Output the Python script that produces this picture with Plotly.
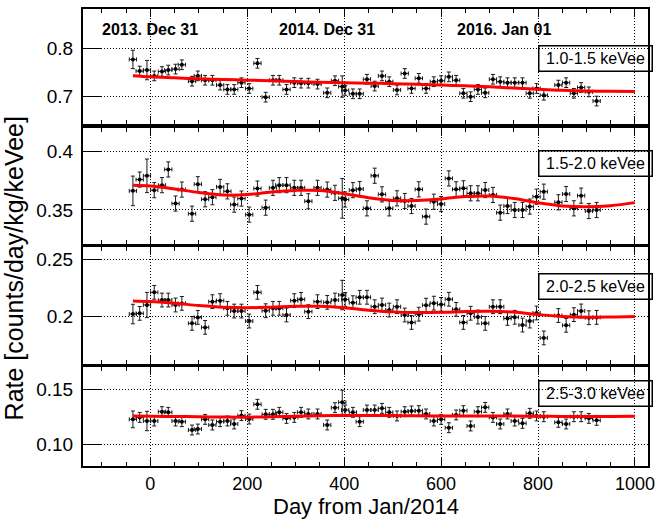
import plotly.graph_objects as go

# Day offsets (from Jan 2014) of each measurement bin
days = [-36, -22, -7, 8, 24, 37, 52, 65, 86, 98, 113, 128, 144, 159, 173, 188,
        204, 221, 238, 253, 266, 281, 297, 311, 326, 345, 365, 381, 396, 402,
        418, 432, 447, 463, 478, 493, 509, 525, 539, 554, 569, 585, 600, 616,
        631, 646, 661, 676, 691, 707, 722, 737, 752, 768, 783, 797, 812, 842,
        858, 874, 889, 905, 921]
day_halfwidth = 7.5

# Event rates per energy window [counts/day/kg/keVee]
rate_1p0 = [0.777, 0.753, 0.755, 0.743, 0.752, 0.755, 0.757, 0.766, 0.732, 0.743,
            0.734, 0.734, 0.724, 0.715, 0.715, 0.729, 0.717, 0.769, 0.699, 0.734,
            0.734, 0.715, 0.729, 0.728, 0.728, 0.726, 0.708, 0.733, 0.721, 0.713,
            0.706, 0.706, 0.736, 0.722, 0.743, 0.731, 0.714, 0.748, 0.717, 0.738,
            0.717, 0.731, 0.733, 0.741, 0.734, 0.707, 0.700, 0.715, 0.708, 0.736,
            0.731, 0.729, 0.729, 0.729, 0.707, 0.717, 0.703, 0.724, 0.729, 0.707,
            0.719, 0.710, 0.691]
rate_1p5 = [0.3664, 0.3761, 0.3793, 0.3670, 0.3713, 0.3848, 0.3555, 0.3675, 0.3468, 0.3721,
            0.3592, 0.3610, 0.3698, 0.3660, 0.3546, 0.3598, 0.3460, 0.3684, 0.3520, 0.3690,
            0.3713, 0.3713, 0.3690, 0.3690, 0.3575, 0.3690, 0.3675, 0.3647, 0.3600, 0.3590,
            0.3670, 0.3680, 0.3514, 0.3794, 0.3634, 0.3514, 0.3600, 0.3577, 0.3534, 0.3677,
            0.3443, 0.3571, 0.3551, 0.3771, 0.3677, 0.3686, 0.3643, 0.3643, 0.3671, 0.3629,
            0.3477, 0.3534, 0.3500, 0.3500, 0.3529, 0.3614, 0.3657, 0.3566, 0.3637, 0.3514,
            0.3623, 0.3491, 0.3500]
rate_2p0 = [0.2023, 0.2029, 0.2102, 0.2212, 0.2145, 0.2145, 0.2102, 0.2116, 0.1942, 0.1994,
            0.1907, 0.2131, 0.2140, 0.2073, 0.2049, 0.2049, 0.1962, 0.2212, 0.2052, 0.2073,
            0.2073, 0.2015, 0.2140, 0.2151, 0.2044, 0.2131, 0.2125, 0.2145, 0.2189, 0.2150,
            0.2122, 0.2169, 0.2169, 0.2087, 0.2102, 0.2058, 0.2087, 0.2015, 0.1950, 0.2022,
            0.2100, 0.2118, 0.2107, 0.2152, 0.2064, 0.1950, 0.2030, 0.1997, 0.1942, 0.2087,
            0.2087, 0.1985, 0.1995, 0.1927, 0.1962, 0.2032, 0.1815, 0.2010, 0.1925, 0.2018,
            0.2050, 0.1991, 0.1994]
rate_2p5 = [0.1224, 0.1242, 0.1209, 0.1209, 0.1294, 0.1288, 0.1209, 0.1203, 0.1127, 0.1136,
            0.1224, 0.1173, 0.1203, 0.1209, 0.1182, 0.1258, 0.1227, 0.1361, 0.1270, 0.1270,
            0.1288, 0.1233, 0.1242, 0.1288, 0.1273, 0.1273, 0.1173, 0.1330, 0.1379, 0.1309,
            0.1288, 0.1203, 0.1309, 0.1309, 0.1324, 0.1288, 0.1255, 0.1294, 0.1300, 0.1303,
            0.1273, 0.1209, 0.1224, 0.1148, 0.1264, 0.1303, 0.1164, 0.1294, 0.1333, 0.1242,
            0.1182, 0.1273, 0.1209, 0.1188, 0.1279, 0.1255, 0.1248, 0.1197, 0.1182, 0.1248,
            0.1248, 0.1233, 0.1215]

# Typical statistical uncertainty per window, and the bins with larger errors
err_base = [0.0100, 0.0065, 0.0060, 0.0045]
err_wide = [{0: 0.019, 2: 0.020, 28: 0.022},
            {0: 0.0127, 2: 0.0144, 28: 0.017},
            {0: 0.0085, 2: 0.011, 28: 0.0128},
            {0: 0.0076, 2: 0.0088, 28: 0.011}]

# Fitted model curves (day, rate)
fit_days = [-36, 0, 50, 100, 150, 200, 250, 300, 350, 400, 450, 500, 550, 600,
            650, 700, 750, 800, 850, 900, 950, 1000]
fit_1p0 = [0.7432, 0.7410, 0.7390, 0.7370, 0.7355, 0.7342, 0.7330, 0.7312, 0.7300, 0.7290,
           0.7280, 0.7270, 0.7255, 0.7240, 0.7225, 0.7205, 0.7178, 0.7152, 0.7132, 0.7118,
           0.7112, 0.7110]
fit_1p5 = [0.3712, 0.3705, 0.3680, 0.3650, 0.3628, 0.3632, 0.3655, 0.3668, 0.3668, 0.3640,
           0.3605, 0.3582, 0.3582, 0.3595, 0.3615, 0.3620, 0.3598, 0.3562, 0.3535, 0.3528,
           0.3537, 0.3563]
fit_2p0 = [0.2137, 0.2132, 0.2118, 0.2097, 0.2082, 0.2078, 0.2083, 0.2090, 0.2090, 0.2078,
           0.2057, 0.2042, 0.2036, 0.2038, 0.2045, 0.2047, 0.2040, 0.2018, 0.2002, 0.1995,
           0.1997, 0.2002]
fit_2p5 = [0.1255, 0.1252, 0.1250, 0.1248, 0.1245, 0.1244, 0.1248, 0.1252, 0.1257, 0.1260,
           0.1259, 0.1258, 0.1256, 0.1255, 0.1255, 0.1255, 0.1254, 0.1252, 0.1251, 0.1250,
           0.1251, 0.1252]

window_labels = ["1.0-1.5 keVee", "1.5-2.0 keVee", "2.0-2.5 keVee", "2.5-3.0 keVee"]
y_ranges = [[0.6426, 0.8812], [0.3208, 0.4208], [0.1588, 0.2607], [0.08, 0.17]]
y_tickvals = [[0.7, 0.8], [0.35, 0.40], [0.20, 0.25], [0.10, 0.15]]
y_ticktext = [["0.7", "0.8"], ["0.35", "0.4"], ["0.2", "0.25"], ["0.10", "0.15"]]

date_labels = ["2013. Dec 31", "2014. Dec 31", "2016. Jan 01"]
date_days = [-1, 364, 730]

x_ticks = [0, 200, 400, 600, 800, 1000]

rates = [rate_1p0, rate_1p5, rate_2p0, rate_2p5]
fits = [fit_1p0, fit_1p5, fit_2p0, fit_2p5]

# Panel layout (fractions of the plotting area, top to bottom)
domains = [[0.7473, 1.0], [0.4858, 0.7407], [0.2232, 0.4792], [0.0, 0.2166]]
label_box_y = [0.8916, 0.6630, 0.3921, 0.1597]

FONT = "Liberation Sans, Arial, Helvetica, sans-serif"
DOT = "1px,2px"

fig = go.Figure()

for i in range(4):
    xa = "x" if i == 0 else f"x{i + 1}"
    ya = "y" if i == 0 else f"y{i + 1}"
    errs = [err_wide[i].get(k, err_base[i]) for k in range(len(days))]
    fig.add_trace(go.Scatter(
        x=days, y=rates[i], xaxis=xa, yaxis=ya, mode="markers",
        marker=dict(color="black", size=4),
        error_x=dict(type="constant", value=day_halfwidth, color="#1a1a1a",
                     thickness=1, width=2),
        error_y=dict(type="data", array=errs, color="#1a1a1a",
                     thickness=1, width=2),
        showlegend=False,
    ))
    fig.add_trace(go.Scatter(
        x=fit_days, y=fits[i], xaxis=xa, yaxis=ya, mode="lines",
        line=dict(color="#ff0000", width=3, shape="spline"),
        showlegend=False,
    ))

layout = dict(
    width=660, height=521,
    margin=dict(l=83, r=5, t=9, b=55),
    paper_bgcolor="white", plot_bgcolor="white",
    font=dict(family=FONT, color="black"),
)

for i in range(4):
    xk = "xaxis" if i == 0 else f"xaxis{i + 1}"
    yk = "yaxis" if i == 0 else f"yaxis{i + 1}"
    ya = "y" if i == 0 else f"y{i + 1}"
    xa = "x" if i == 0 else f"x{i + 1}"
    layout[xk] = dict(
        domain=[0, 1], anchor=ya, range=[-139, 1027],
        tickvals=x_ticks, ticks="inside", ticklen=8, tickwidth=1, tickcolor="black",
        showticklabels=(i == 3), tickfont=dict(size=18),
        minor=dict(tick0=0, dtick=50, ticks="inside", ticklen=4, tickcolor="black",
                   showgrid=False),
        showline=True, linecolor="black", linewidth=2, mirror="ticks",
        showgrid=True, gridcolor="black", gridwidth=1, griddash=DOT,
        zeroline=False,
    )
    if i > 0:
        layout[xk]["matches"] = "x"
    layout[yk] = dict(
        domain=domains[i], anchor=xa, range=y_ranges[i],
        tickvals=y_tickvals[i], ticktext=y_ticktext[i],
        ticks="inside", ticklen=18, tickwidth=1, tickcolor="black",
        tickfont=dict(size=19), ticklabelstandoff=4,
        showline=True, linecolor="black", linewidth=2, mirror=True,
        showgrid=True, gridcolor="black", gridwidth=1, griddash=DOT,
        zeroline=False,
    )

annotations = []
# Energy-window boxes
for i in range(4):
    annotations.append(dict(
        text=window_labels[i], xref="paper", yref="paper",
        x=0.9074, y=label_box_y[i], xanchor="center", yanchor="middle",
        showarrow=False, font=dict(size=16, family=FONT),
        bordercolor="black", borderwidth=1.5, borderpad=2,
        width=108, height=20, bgcolor="rgba(0,0,0,0)",
    ))
# Calendar markers along the top panel
for lab, d in zip(date_labels, date_days):
    annotations.append(dict(
        text=f"<b>{lab}</b>", xref="x", yref="y domain", x=d, y=0.82,
        xanchor="center", yanchor="middle", showarrow=False,
        font=dict(size=16, family=FONT),
    ))
# Axis titles
annotations.append(dict(
    text="Day from Jan/2014", xref="paper", yref="paper", x=0.5, y=-0.0897,
    xanchor="center", yanchor="middle", showarrow=False, font=dict(size=22, family=FONT),
))
annotations.append(dict(
    text="Rate [counts/day/kg/keVee]", xref="paper", yref="paper",
    x=-0.1224, y=0.432, xanchor="center", yanchor="middle", textangle=-90,
    showarrow=False, font=dict(size=25, family=FONT),
))
layout["annotations"] = annotations

fig.update_layout(**layout)
fig.write_html("out.html")
